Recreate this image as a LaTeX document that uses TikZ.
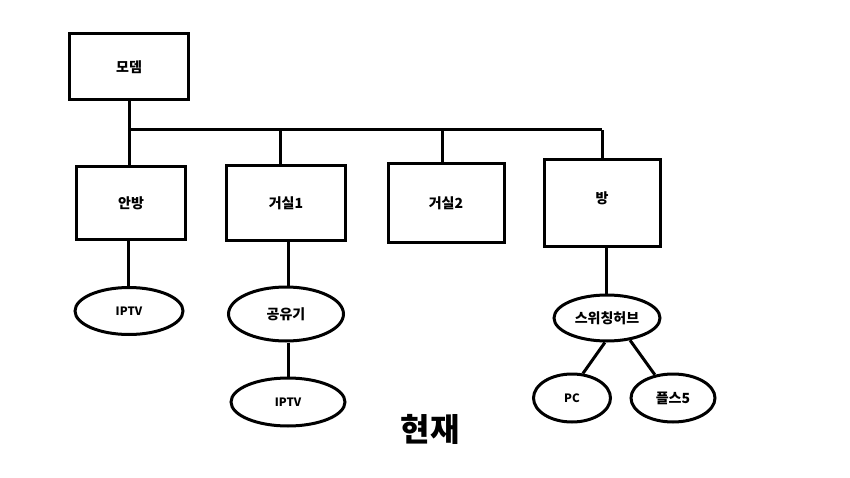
\documentclass[tikz,border=0pt]{standalone}
\usepackage{fontspec}
\setmainfont{Noto Sans CJK KR}
\usetikzlibrary{shapes.geometric}
\begin{document}
\begin{tikzpicture}[x=1pt,y=-1pt,line width=3pt,font=\fontsize{14}{16}\selectfont\bfseries,
  roombox/.style={draw,rectangle,inner sep=0pt},
  devnode/.style={draw,ellipse,inner sep=0pt,minimum height=47pt}]
  \useasboundingbox (0,0) rectangle (850,478);

  % modem and bus
  \node[roombox,minimum width=119pt,minimum height=66pt] (modem) at (129,67) {모뎀};
  \coordinate (busL) at (129,130);
  \coordinate (busR) at (602,130);

  % rooms
  \node[roombox,minimum width=109pt,minimum height=73pt] (anbang) at (131,203) {안방};
  \node[roombox,minimum width=119pt,minimum height=75pt] (geosil1) at (286,203) {거실1};
  \node[roombox,minimum width=116pt,minimum height=79pt] (geosil2) at (446,203) {거실2};
  \node[roombox,minimum width=116pt,minimum height=86pt] (bang) at (602,203) {};
  \node (bangtext) at (602,198) {방};

  \draw (modem.south) -- (busL) -- (busR);
  \draw (anbang.north -| busL) -- (busL);
  \draw ([xshift=-6pt]geosil1.north) -- ([xshift=-6pt]geosil1.north |- busL);
  \draw ([xshift=-4pt]geosil2.north) -- ([xshift=-4pt]geosil2.north |- busL);
  \draw (bang.north) -- (busR);

  % devices
  \node[devnode,minimum width=108pt] (iptvA) at (129,311) {\fontsize{11.5}{13}\selectfont IPTV};
  \node[devnode,minimum width=115pt,minimum height=54pt] (router) at (286,314) {공유기};
  \node[devnode,minimum width=114pt,minimum height=48pt] (iptvB) at (288,402) {\fontsize{11.5}{13}\selectfont IPTV};
  \node[devnode,minimum width=106pt,minimum height=46pt] (hub) at (607,318) {스위칭허브};
  \node[devnode,minimum width=77pt,minimum height=48pt] (pc) at (572,398) {\fontsize{11.5}{13}\selectfont PC};
  \node[devnode,minimum width=84pt,minimum height=48pt] (ps5) at (673,398) {플스5};

  \draw ([xshift=-3pt]anbang.south) -- ([xshift=-3pt]anbang.south |- iptvA.north);
  \draw ([xshift=2pt]geosil1.south) -- ([xshift=2pt]geosil1.south |- router.north);
  \draw ([xshift=2pt]router.south) -- ([xshift=2pt]router.south |- iptvB.north);
  \draw ([xshift=4pt]bang.south) -- ([xshift=4pt]bang.south |- hub.north);
  \draw (hub.-95) -- (pc.66);
  \draw (hub.-44) -- (ps5.128);

  \node[font=\fontsize{32}{36}\selectfont\bfseries] (title) at (430,429) {현재};
\end{tikzpicture}
\end{document}
